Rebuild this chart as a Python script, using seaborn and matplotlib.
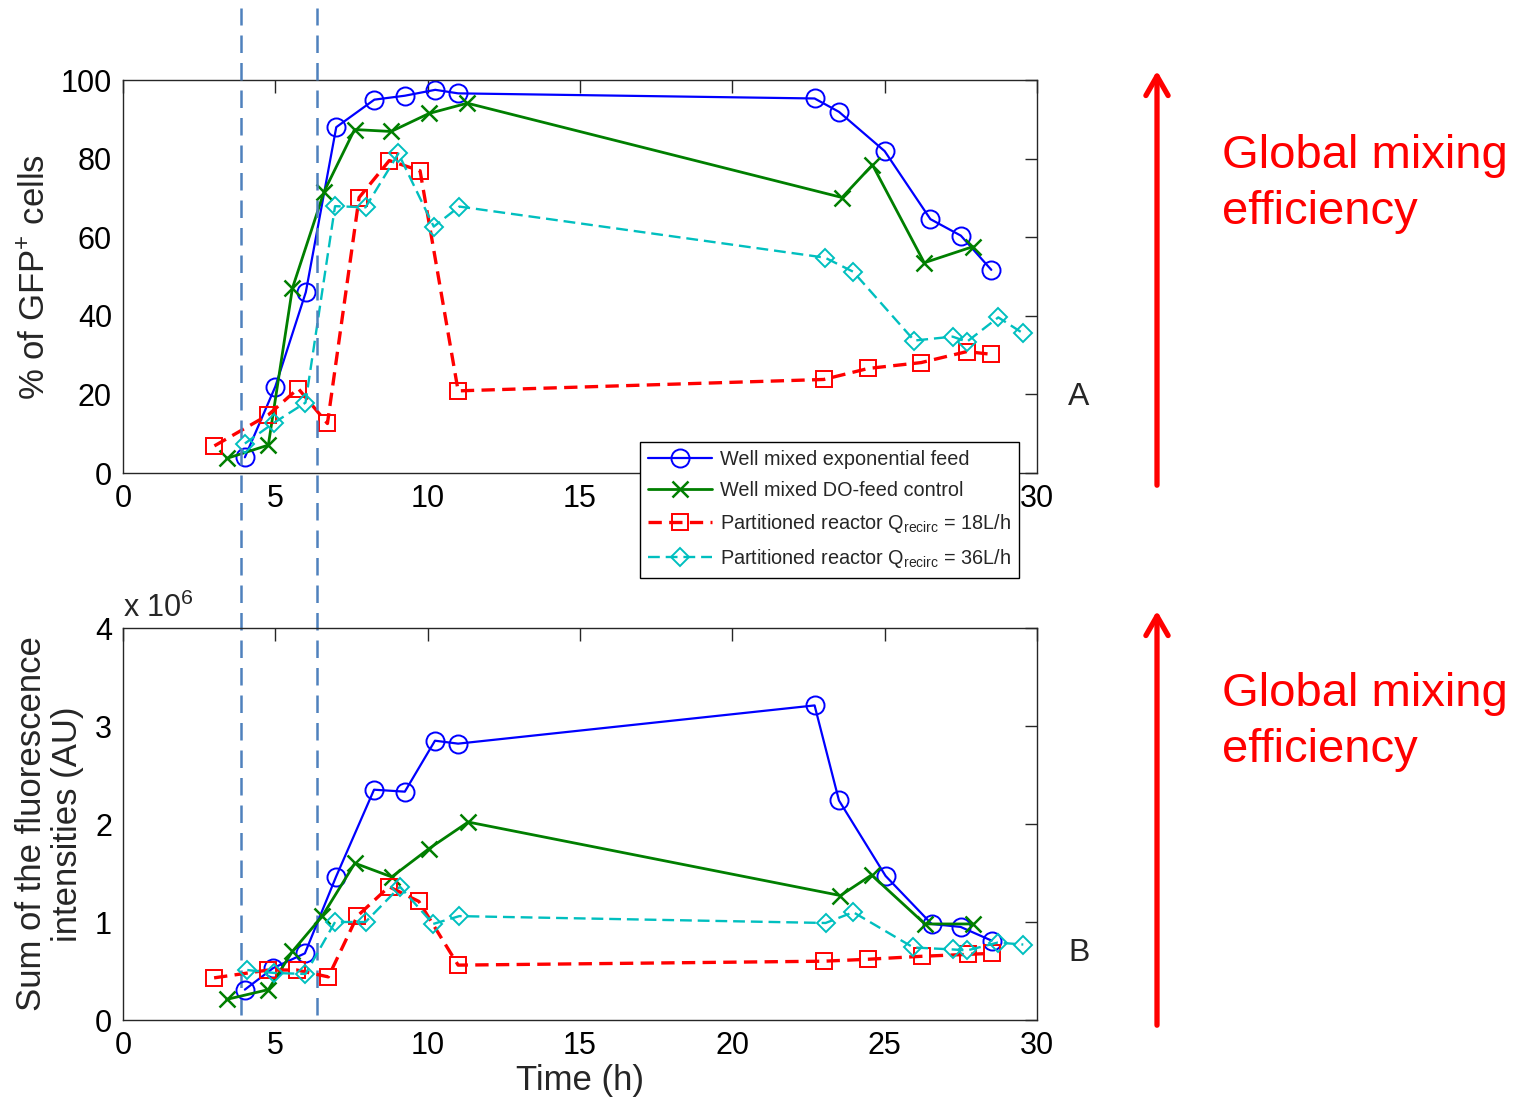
import matplotlib
matplotlib.use("Agg")
import matplotlib.pyplot as plt
import seaborn as sns
import pandas as pd

# ---- data -------------------------------------------------------------
# % of GFP+ cells
t_exp_a = [4.0, 5.0, 6.0, 7.0, 8.25, 9.25, 10.25, 11.0, 22.7, 23.5, 25.0, 26.5, 27.5, 28.5]
gfp_exp = [4, 22, 46, 88, 95, 96, 97.5, 96.6, 95.3, 91.9, 81.9, 64.6, 60.4, 51.7]

t_do_a = [3.4, 4.77, 5.56, 6.6, 7.6, 8.8, 10.05, 11.3, 23.6, 24.6, 26.3, 27.9]
gfp_do = [3.7, 7.1, 47, 71.6, 87.4, 86.9, 91.5, 94.1, 70.1, 78.4, 53.5, 57.6]

t_q18_a = [3.0, 4.77, 5.75, 6.71, 7.75, 8.74, 9.75, 11.0, 23.0, 24.46, 26.2, 27.7, 28.5]
gfp_q18 = [6.9, 14.8, 21.5, 12.6, 70.1, 79.5, 76.9, 20.9, 23.8, 26.6, 28.1, 30.9, 30.2]

t_q36_a = [4.0, 4.96, 5.99, 6.96, 7.96, 9.04, 10.2, 11.04, 23.04, 23.97, 25.97, 27.23, 27.7, 28.73, 29.55]
gfp_q36 = [7.5, 12.8, 17.9, 67.9, 67.6, 81.3, 62.7, 67.8, 54.8, 51.2, 33.7, 34.7, 33.4, 39.6, 35.5]

# Sum of fluorescence intensities (units of 10^6 AU)
t_exp_b = [4.0, 4.93, 5.97, 6.99, 8.24, 9.25, 10.24, 11.0, 22.7, 23.5, 25.03, 26.54, 27.49, 28.51]
fluo_exp = [0.31, 0.53, 0.68, 1.46, 2.35, 2.33, 2.85, 2.82, 3.21, 2.24, 1.47, 0.98, 0.95, 0.81]

t_do_b = [3.4, 4.77, 5.56, 6.54, 7.61, 8.82, 10.05, 11.33, 23.55, 24.57, 26.32, 27.89]
fluo_do = [0.21, 0.31, 0.70, 1.06, 1.60, 1.46, 1.75, 2.02, 1.27, 1.48, 0.98, 0.98]

t_q18_b = [2.99, 4.77, 5.7, 6.74, 7.69, 8.73, 9.71, 11.0, 23.0, 24.46, 26.21, 27.74, 28.51]
fluo_q18 = [0.43, 0.51, 0.51, 0.44, 1.06, 1.36, 1.21, 0.56, 0.60, 0.62, 0.65, 0.67, 0.68]

t_q36_b = [4.08, 4.96, 5.99, 6.96, 7.96, 9.09, 10.18, 11.04, 23.06, 23.97, 25.94, 27.23, 27.71, 28.71, 29.55]
fluo_q36 = [0.51, 0.48, 0.47, 1.00, 1.00, 1.36, 0.98, 1.06, 0.99, 1.10, 0.74, 0.72, 0.71, 0.79, 0.77]

labels = [
    "Well mixed exponential feed",
    "Well mixed DO-feed control",
    r"Partitioned reactor Q$_{\mathrm{recirc}}$ = 18L/h",
    r"Partitioned reactor Q$_{\mathrm{recirc}}$ = 36L/h",
]
phase_marks = [3.88, 6.37]  # h, vertical guides
x_ticks = [0, 5, 10, 15, 20, 25, 30]
x_ticks_top_shown = ["0", "5", "10", "15", "", "", "30"]  # 20 and 25 sit under the legend

# ---- styling ----------------------------------------------------------
sns.set_theme(style="white")
plt.rcParams["font.family"] = ["Liberation Sans", "DejaVu Sans"]
plt.rcParams["mathtext.fontset"] = "custom"
plt.rcParams["mathtext.rm"] = "Liberation Sans"
plt.rcParams["mathtext.it"] = "Liberation Sans"

styles = [
    dict(color="#0000FF", marker="o", markersize=13, linestyle="-", linewidth=1.6,
         markerfacecolor="none", markeredgecolor="#0000FF", markeredgewidth=1.4),
    dict(color="#007F00", marker="x", markersize=11, linestyle="-", linewidth=2.0,
         markeredgecolor="#007F00", markeredgewidth=1.8),
    dict(color="#FF0000", marker="s", markersize=11, linestyle=(0, (4, 2.2)), linewidth=2.4,
         markerfacecolor="none", markeredgecolor="#FF0000", markeredgewidth=1.4),
    dict(color="#00BFBF", marker="D", markersize=9.5, linestyle=(0, (5, 2.5)), linewidth=1.7,
         markerfacecolor="none", markeredgecolor="#00BFBF", markeredgewidth=1.4),
]

W, H = 1517, 1098
fig = plt.figure(figsize=(W / 100, H / 100), dpi=100)
ax_a = fig.add_axes([123 / W, 1 - 473 / H, 914 / W, 393 / H])
ax_b = fig.add_axes([123 / W, 1 - 1020 / H, 914 / W, 392 / H])

series_a = [(t_exp_a, gfp_exp), (t_do_a, gfp_do), (t_q18_a, gfp_q18), (t_q36_a, gfp_q36)]
series_b = [(t_exp_b, fluo_exp), (t_do_b, fluo_do), (t_q18_b, fluo_q18), (t_q36_b, fluo_q36)]

for (t, v), lab, st in zip(series_a, labels, styles):
    df = pd.DataFrame({"t": t, "v": v})
    sns.lineplot(data=df, x="t", y="v", ax=ax_a, label=lab, **st)
for (t, v), st in zip(series_b, styles):
    df = pd.DataFrame({"t": t, "v": v})
    sns.lineplot(data=df, x="t", y="v", ax=ax_b, **st)

for ax, ymax, ystep in [(ax_a, 100, 20), (ax_b, 4, 1)]:
    ax.set_xlim(0, 30)
    ax.set_ylim(0, ymax)
    ax.set_xticks(x_ticks)
    ax.set_yticks(range(0, ymax + 1, ystep))
    ax.tick_params(direction="in", length=9, width=1, top=True, right=True,
                   labelsize=22, pad=8, colors="#262626", labelcolor="black")
    for sp in ax.spines.values():
        sp.set_color("#262626")
        sp.set_linewidth(1.0)
    ax.set_xlabel("")
    ax.set_ylabel("")
ax_a.set_xticklabels(x_ticks_top_shown)

ax_a.set_ylabel(r"% of GFP$^{+}$ cells", fontsize=25, labelpad=6)
ax_b.set_ylabel("Sum of the fluorescence\nintensities (AU)", fontsize=25, labelpad=8,
                linespacing=1.1)
ax_b.set_xlabel("Time (h)", fontsize=25, labelpad=2)
ax_b.text(0.0, 1.01, r"x 10$^{6}$", transform=ax_b.transAxes, fontsize=22,
          ha="left", va="bottom")

leg = ax_a.legend(loc="upper left", bbox_to_anchor=(0.566, 0.078), fontsize=14.3,
                  frameon=True, fancybox=False, framealpha=1, edgecolor="black",
                  handlelength=3.2, borderpad=0.4, labelspacing=0.6, handletextpad=0.4,
                  borderaxespad=0)
leg.get_frame().set_linewidth(1.0)
leg.set_zorder(10)

# vertical phase guides spanning both panels
for x in phase_marks:
    ax_b.axvline(x, ymin=(1020 - 1015) / 392, ymax=(1020 - 8) / 392, clip_on=False,
                 color="#4F81BD", linewidth=1.8, linestyle=(0, (7, 4)), zorder=1)

fig.text(1068 / W, 1 - 397 / H, "A", fontsize=23, ha="left", va="center")
fig.text(1068 / W, 1 - 953 / H, "B", fontsize=23, ha="left", va="center")

# red arrows and annotations
for y_bot, y_top, y_txt in [(488, 68, 184), (1028, 608, 722)]:
    arrow = matplotlib.patches.FancyArrowPatch(
        (1157 / W, 1 - y_bot / H), (1157 / W, 1 - y_top / H),
        transform=fig.transFigure, arrowstyle="->,head_length=0.7,head_width=0.4",
        color="#FF0000", linewidth=3.8, mutation_scale=20,
        capstyle="round", joinstyle="round")
    fig.add_artist(arrow)
    fig.text(1222 / W, 1 - y_txt / H, "Global mixing\nefficiency", color="#FF0000",
             fontsize=34, ha="left", va="center", linespacing=1.35)

fig.savefig("out.png", dpi=100)
